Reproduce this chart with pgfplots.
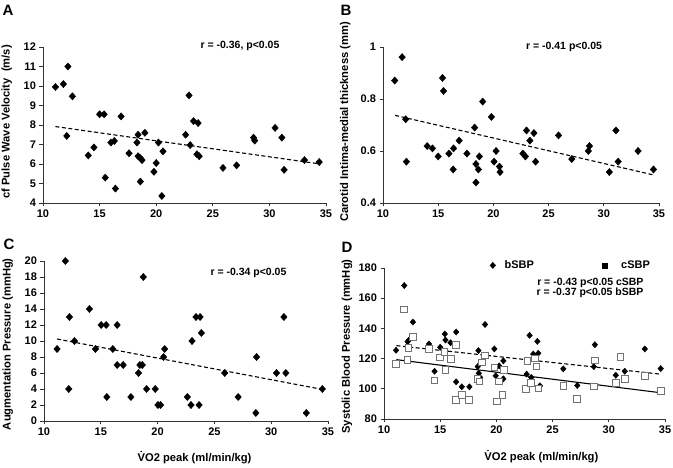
\documentclass[border=0pt]{standalone}
\usepackage{fontspec}
\setmainfont{Liberation Sans}
\usepackage{pgfplots}
\pgfplotsset{compat=1.18}

\pgfplotsset{
  panel/.style={
    scale only axis,
    anchor=south west,
    axis lines=left,
    axis line style={-, line width=0.8pt, black!80},
    tick style={line width=0.8pt, black!80},
    tick align=outside,
    major tick length=3.5pt,
    xmin=10, xmax=35, xtick={10,15,...,35},
    enlargelimits=false,
    ticklabel style={font=\bfseries\fontsize{11}{13}\selectfont},
    /pgf/number format/assume math mode=true,
    label style={font=\bfseries\fontsize{11.2}{13}\selectfont},
    clip=false,
  },
  dia/.style={only marks, mark=diamond*, mark size=3.6pt,
    mark options={fill=black, draw=black, xscale=1.2}},
  trend/.style={no marks, black, line width=1.1pt, dash pattern=on 4pt off 2.5pt},
}
\tikzset{ann/.style={font=\bfseries\fontsize{10.5}{12}\selectfont}}

\begin{document}
\begin{tikzpicture}[x=1pt,y=1pt]
\path[use as bounding box] (0,0) rectangle (673,468);

% ---------------- A ----------------
\begin{axis}[panel, at={(43pt,265pt)}, width=283pt, height=156pt,
  ymin=4, ymax=12, ytick={4,5,...,12},
  ylabel={cf Pulse Wave Velocity \ (m/s)},
  ylabel style={at={(axis description cs:-0.128,0.52)}, anchor=center}]
\addplot[dia] coordinates {
(11.1,9.95) (11.8,10.1) (12.2,11.0) (12.1,7.44) (12.6,9.47) (14.0,6.44)
(14.5,6.85) (15.0,8.55) (15.4,8.55) (15.5,5.3) (16.0,7.1) (16.3,7.18)
(16.4,4.74) (16.9,8.44) (17.6,6.55) (18.3,7.1) (18.4,7.5) (18.4,6.4)
(18.6,6.3) (18.75,6.2) (18.6,5.1) (19.0,7.6) (19.8,5.6) (20.0,6.05)
(20.2,7.1) (20.5,4.36) (20.6,6.65) (22.6,7.5) (22.9,9.52) (23.0,6.97)
(23.3,8.2) (23.7,8.1) (23.6,6.5) (23.8,6.4) (25.9,5.8) (27.1,5.93)
(28.6,7.35) (28.7,7.2) (30.5,7.85) (31.1,7.35) (31.3,5.7) (33.1,6.2)
(34.4,6.1)
};
\addplot[trend] coordinates {(11.1,7.92) (34.5,6.0)};
\node[ann] at (axis cs:27.4,12.05) {r = -0.36, p<0.05};
\end{axis}

% ---------------- B ----------------
\begin{axis}[panel, at={(383pt,265pt)}, width=276pt, height=156pt,
  ymin=0.4, ymax=1, ytick={0.4,0.6,0.8,1},
  yticklabels={0.4,0.6,0.8,1},
  ylabel={Carotid Intima-medial thickness (mm)},
  ylabel style={at={(axis description cs:-0.137,0.52)}, anchor=center}]
\addplot[dia] coordinates {
(11.06,0.871) (11.73,0.961) (12.06,0.722) (12.12,0.559) (14.0,0.619)
(14.48,0.610) (15.0,0.579) (15.39,0.881) (15.48,0.831) (15.97,0.590)
(16.39,0.610) (16.36,0.529) (16.9,0.640) (17.6,0.590) (18.3,0.690)
(18.42,0.550) (18.42,0.479) (18.64,0.529) (18.73,0.579) (19.03,0.790)
(19.82,0.731) (20.06,0.559) (20.24,0.600) (20.55,0.540) (20.6,0.519)
(22.67,0.590) (22.9,0.579) (23.0,0.679) (23.3,0.640) (23.67,0.669)
(23.82,0.559) (25.9,0.660) (27.1,0.569) (28.6,0.600) (28.7,0.619)
(30.5,0.519) (31.1,0.679) (31.3,0.559) (33.1,0.600) (34.5,0.529)
};
\addplot[trend] coordinates {(11.1,0.737) (34.5,0.508)};
\node[ann] at (axis cs:26.4,1.0) {r = -0.41 p<0.05};
\end{axis}

% ---------------- C ----------------
\begin{axis}[panel, at={(44pt,47pt)}, width=284pt, height=160pt,
  ymin=0, ymax=20, ytick={0,2,...,20},
  ylabel={Augmentation Pressure (mmHg)},
  ylabel style={at={(axis description cs:-0.128,0.48)}, anchor=center},
  xlabel={\.{V}O2 peak (ml/min/kg)},
  xlabel style={at={(axis description cs:0.53,-0.23)}, anchor=center}]
\addplot[dia] coordinates {
(11.15,9) (11.88,20) (12.18,4) (12.24,13) (12.68,10) (14.0,14)
(14.53,9) (15.03,12) (15.47,12) (15.53,3) (16.06,9) (16.44,12)
(16.44,7) (16.97,7) (17.65,3) (18.32,6) (18.44,7) (18.65,7)
(18.74,18) (19.03,4) (19.79,4) (20.03,2) (20.26,2) (20.53,8)
(20.62,9) (22.62,3) (22.94,2) (23.03,10) (23.38,13) (23.74,13)
(23.65,2) (23.85,11) (25.91,6) (27.09,3) (28.65,1) (28.71,8)
(30.47,6) (31.12,13) (31.29,6) (33.09,1) (34.5,4)
};
\addplot[trend] coordinates {(11.15,10.25) (34.5,3.95)};
\node[ann] at (axis cs:28.0,18.5) {r = -0.34 p<0.05};
\end{axis}

% ---------------- D ----------------
\begin{axis}[panel, at={(384pt,49pt)}, width=281pt, height=151pt,
  ymin=80, ymax=180, ytick={80,100,...,180},
  ylabel={Systolic Blood Pressure (mmHg)},
  ylabel style={at={(axis description cs:-0.132,0.48)}, anchor=center},
  xlabel={\.{V}O2 peak (ml/min/kg)},
  xlabel style={at={(axis description cs:0.56,-0.25)}, anchor=center},
  legend columns=2,
  legend style={draw=none, fill=none, at={(axis description cs:0.366,1.017)},
    anchor=west, font=\bfseries\fontsize{11}{13}\selectfont}]
\addplot[only marks, mark=diamond*, mark size=3.1pt,
    mark options={fill=black, draw=black, xscale=1.2}] coordinates {
(11.07,125.5) (11.8,168.4) (12.1,131.2) (12.25,132.5) (12.57,144.2)
(14.0,129.7) (14.5,111.6) (15.0,127.5) (15.41,136.3) (15.47,132.3)
(15.92,130.5) (16.42,137.6) (16.42,104.6) (16.92,101.3) (17.6,101.3)
(18.34,114.7) (18.4,125.3) (18.43,110.3) (18.55,107.5) (18.99,142.6)
(19.82,126.4) (19.94,108.6) (20.24,115.2) (20.62,118.5) (20.62,106.6)
(22.69,109.7) (22.95,135.4) (23.1,107.5) (23.28,123.0) (23.64,131.4)
(23.72,123.5) (23.87,102.0) (25.95,113.2) (27.19,102.2) (28.67,114.7)
(28.76,129.2) (30.62,109.0) (31.04,121.3) (31.42,111.6) (33.2,126.4)
(34.62,113.4)
};
\addlegendentry{\hspace*{7pt}bSBP\hspace*{66pt}}
\addlegendimage{only marks, mark=square*, mark size=2.6pt, black}
\addlegendentry{\hspace*{12pt}cSBP}
\addplot[only marks, mark=square*, mark size=3.3pt,
    mark options={fill=white, draw=black!55, line width=0.9pt}, forget plot] coordinates {
(11.07,116.5) (11.78,152.5) (12.1,119.1) (12.16,127.0) (12.57,134.5)
(14.0,126.2) (14.5,105.5) (15.0,120.7) (15.47,112.5) (15.38,124.4)
(15.95,119.6) (16.42,129.2) (16.42,92.5) (16.92,95.8) (17.57,92.5)
(18.31,106.4) (18.49,104.8) (18.7,117.4) (19.0,122.2) (19.82,114.1)
(20.03,91.6) (20.24,104.8) (20.53,96.0) (20.68,112.5) (22.63,99.8)
(22.75,118.5) (23.05,103.7) (23.43,120.2) (23.58,114.7) (23.75,100.2)
(25.95,101.8) (27.19,93.4) (28.76,118.7) (28.67,101.5) (30.62,103.7)
(31.04,120.9) (31.42,106.6) (33.2,108.6) (34.62,98.7)
};
\addplot[trend, forget plot] coordinates {(11.1,128.6) (34.6,109.7)};
\addplot[no marks, black, line width=1.1pt, forget plot] coordinates {(11.1,119.3) (34.6,97.4)};
\node[ann, anchor=east] at (axis cs:33.4,170.0) {r = -0.43 p<0.05 cSBP};
\node[ann, anchor=east] at (axis cs:33.4,163.6) {r = -0.37 p<0.05 bSBP};
\end{axis}

% panel letters
\node[font=\bfseries\fontsize{15}{18}\selectfont] at (8,458) {A};
\node[font=\bfseries\fontsize{15}{18}\selectfont] at (346,458) {B};
\node[font=\bfseries\fontsize{15}{18}\selectfont] at (9,224) {C};
\node[font=\bfseries\fontsize{15}{18}\selectfont] at (347,221) {D};
\end{tikzpicture}
\end{document}
